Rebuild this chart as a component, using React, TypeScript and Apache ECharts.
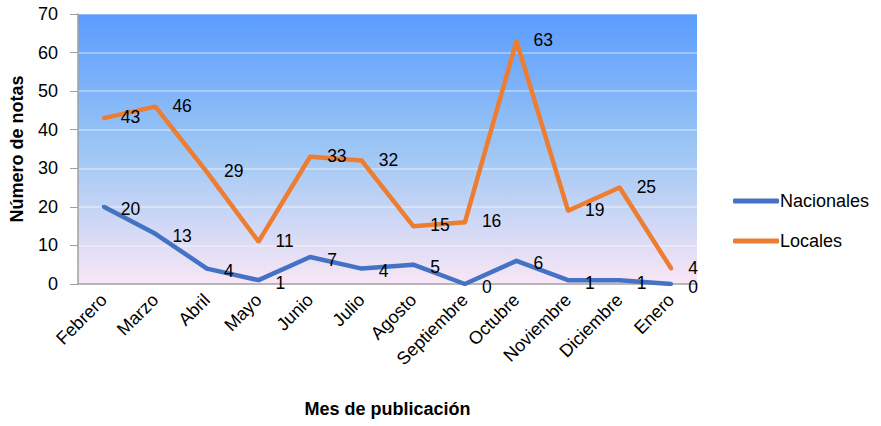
import React, { useEffect, useRef } from "react";
import * as echarts from "echarts";

const categories = ["Febrero", "Marzo", "Abril", "Mayo", "Junio", "Julio", "Agosto", "Septiembre", "Octubre", "Noviembre", "Diciembre", "Enero"];
const nacionales = [20, 13, 4, 1, 7, 4, 5, 0, 6, 1, 1, 0];
const locales = [43, 46, 29, 11, 33, 32, 15, 16, 63, 19, 25, 4];

const FONT = "Liberation Sans";

export default function App() {
  const ref = useRef<HTMLDivElement>(null);
  useEffect(() => {
    if (!ref.current) return;
    const chart = echarts.init(ref.current, undefined, { renderer: "svg" });
    const label = {
      show: true,
      position: "right" as const,
      distance: 15,
      color: "#000",
      fontFamily: FONT,
      fontSize: 17.5,
      lineHeight: 14,
    };
    chart.setOption({
      animation: false,
      textStyle: { fontFamily: FONT },
      grid: {
        left: 78,
        right: 184,
        top: 14,
        bottom: 142,
        outerBoundsMode: "none",
        containLabel: false,
        show: true,
        borderWidth: 0,
        backgroundColor: new echarts.graphic.LinearGradient(0, 0, 0, 1, [
          { offset: 0, color: "#5A9CFF" },
          { offset: 0.5, color: "#9CC6F4" },
          { offset: 1, color: "#F9E6F6" },
        ]),
      },
      legend: {
        orient: "vertical",
        left: 728,
        top: 187,
        itemGap: 22,
        itemWidth: 46,
        itemHeight: 5,
        icon: "roundRect",
        textStyle: { fontFamily: FONT, fontSize: 18, color: "#000", padding: [0, 0, 0, -4] },
        data: ["Nacionales", "Locales"],
      },
      xAxis: {
        type: "category",
        data: categories,
        boundaryGap: true,
        name: "Mes de publicación",
        nameLocation: "middle",
        nameGap: 116,
        nameTextStyle: { fontFamily: FONT, fontSize: 18, fontWeight: "bold", color: "#000" },
        axisLine: { lineStyle: { color: "#A0A0A0", width: 1.5 } },
        axisTick: { show: false },
        axisLabel: { rotate: 45, interval: 0, fontFamily: FONT, fontSize: 18, color: "#000", margin: 13 },
      },
      yAxis: {
        type: "value",
        min: 0,
        max: 70,
        interval: 10,
        name: "Número de notas",
        nameLocation: "middle",
        nameGap: 52,
        nameTextStyle: { fontFamily: FONT, fontSize: 18, fontWeight: "bold", color: "#000" },
        axisLine: { show: true, lineStyle: { color: "#A0A0A0", width: 1.5 } },
        axisTick: { show: true, length: 8, lineStyle: { color: "#A0A0A0" } },
        axisLabel: { fontFamily: FONT, fontSize: 18, color: "#000", margin: 20 },
        splitLine: { lineStyle: { color: "rgba(255,255,255,0.45)", width: 1.5 } },
      },
      series: [
        {
          name: "Nacionales",
          type: "line",
          data: nacionales,
          color: "#4472C4",
          symbol: "circle",
          symbolSize: 4,
          lineStyle: { width: 4.5, color: "#4472C4" },
          itemStyle: { color: "#4472C4" },
          label: { ...label, offset: [0, 2.5] },
        },
        {
          name: "Locales",
          type: "line",
          data: locales,
          color: "#ED7D31",
          symbol: "circle",
          symbolSize: 4,
          lineStyle: { width: 4.5, color: "#ED7D31" },
          itemStyle: { color: "#ED7D31" },
          label: { ...label, offset: [0, -1] },
        },
      ],
    });
    return () => chart.dispose();
  }, []);
  return <div ref={ref} style={{ width: 881, height: 426, position: "absolute", left: 0, top: 0 }} />;
}
